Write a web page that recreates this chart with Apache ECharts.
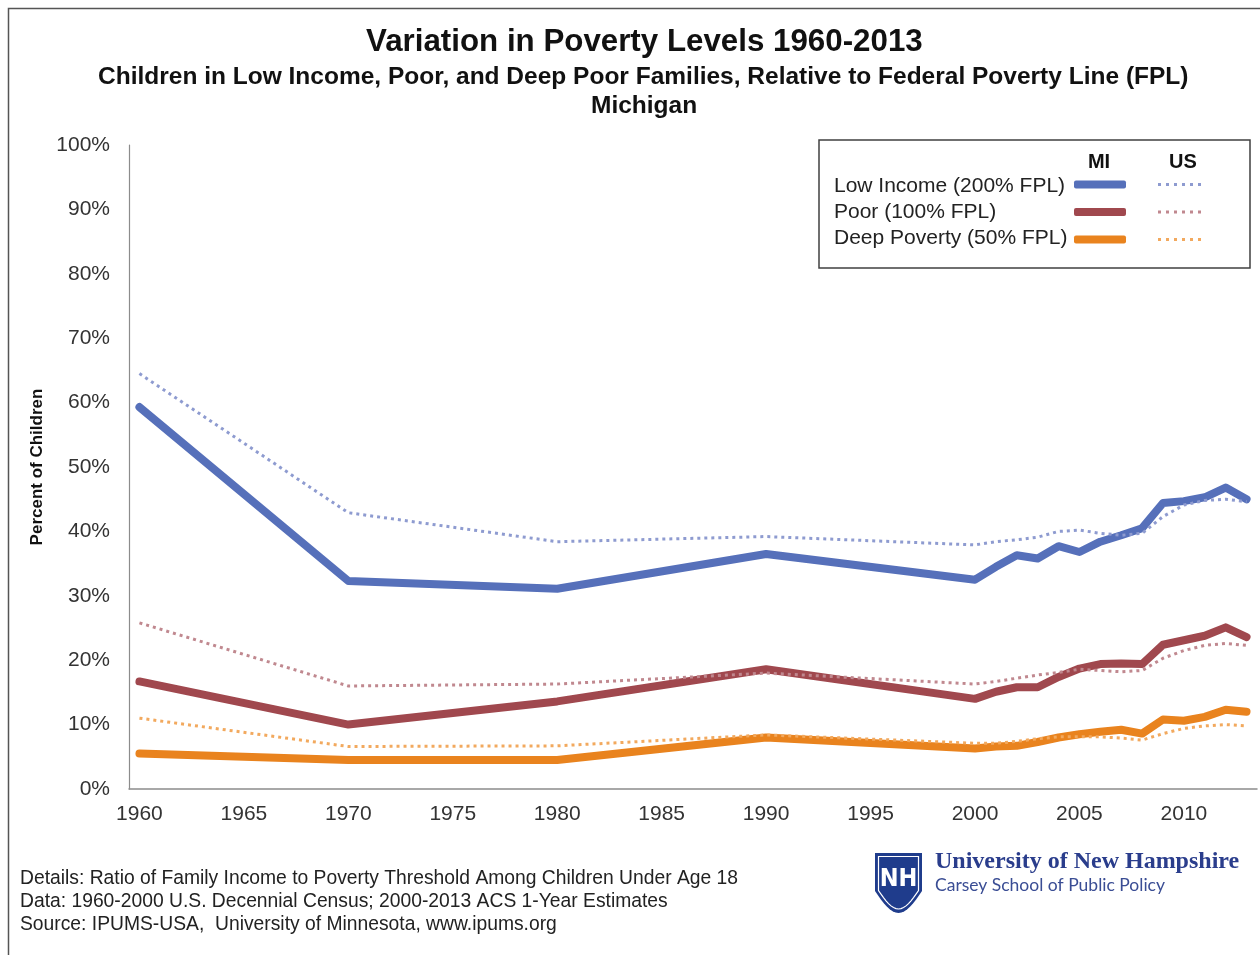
<!DOCTYPE html>
<html>
<head>
<meta charset="utf-8">
<title>Variation in Poverty Levels 1960-2013</title>
<script src="https://cdn.jsdelivr.net/npm/echarts@6/dist/echarts.min.js"></script>
<style>
  html, body { margin: 0; padding: 0; background: #fff; }
  #main { width: 1260px; height: 955px; }
</style>
</head>
<body>
<div id="main"></div>
<script>
// years on the x axis (decennial census, then ACS yearly)
var years = [1960, 1970, 1980, 1990, 2000, 2001, 2002, 2003, 2004, 2005, 2006, 2007, 2008, 2009, 2010, 2011, 2012, 2013];
var yearTicks = [1960, 1965, 1970, 1975, 1980, 1985, 1990, 1995, 2000, 2005, 2010];

// percent of children, Michigan (solid) and US (dotted)
var miLowIncome = [59.3, 32.3, 31.1, 36.5, 32.5, 34.5, 36.3, 35.8, 37.7, 36.8, 38.4, 39.4, 40.5, 44.4, 44.7, 45.3, 46.8, 45.0];
var usLowIncome = [64.5, 42.9, 38.4, 39.2, 37.9, 38.4, 38.7, 39.1, 40.0, 40.2, 39.7, 39.4, 39.7, 42.3, 44.1, 44.8, 45.0, 44.6];
var miPoor = [16.7, 10.0, 13.6, 18.6, 14.0, 15.1, 15.8, 15.8, 17.4, 18.7, 19.4, 19.5, 19.4, 22.4, 23.1, 23.8, 25.1, 23.6];
var usPoor = [25.8, 16.0, 16.3, 18.0, 16.3, 16.7, 17.2, 17.7, 18.1, 18.6, 18.4, 18.2, 18.4, 20.3, 21.5, 22.3, 22.6, 22.3];
var miDeep = [5.5, 4.5, 4.5, 8.0, 6.3, 6.6, 6.7, 7.3, 8.0, 8.5, 8.9, 9.2, 8.6, 10.8, 10.6, 11.2, 12.3, 12.0];
var usDeep = [11.0, 6.6, 6.7, 8.4, 7.1, 7.1, 7.4, 7.8, 8.1, 8.1, 8.1, 7.9, 7.6, 8.6, 9.4, 9.8, 10.0, 9.8];

var legendLabels = ['Low Income (200% FPL)', 'Poor (100% FPL)', 'Deep Poverty (50% FPL)'];
var footNotes = [
  'Details: Ratio of Family Income to Poverty Threshold Among Children Under Age 18',
  'Data: 1960-2000 U.S. Decennial Census; 2000-2013 ACS 1-Year Estimates',
  'Source: IPUMS-USA,  University of Minnesota, www.ipums.org'
];

var FONT = '"Liberation Sans", Arial, sans-serif';

function pairs(vals) {
  return years.map(function (y, i) { return [y, vals[i]]; });
}

function miSeries(name, vals, color) {
  return {
    name: name, type: 'line', data: pairs(vals),
    symbol: 'none', color: color,
    lineStyle: { color: color, width: 8, cap: 'round', join: 'round' },
    emphasis: { disabled: true }, z: 2
  };
}
function usSeries(name, vals, color) {
  return {
    name: name, type: 'line', data: pairs(vals),
    symbol: 'none', color: color,
    lineStyle: { color: color, width: 3, type: [3, 4], cap: 'butt' },
    emphasis: { disabled: true }, z: 3
  };
}

var dots = 'path://M0,0h3v3h-3zM8,0h3v3h-3zM16,0h3v3h-3zM24,0h3v3h-3zM32,0h3v3h-3zM40,0h3v3h-3z';

// shield outline for the logo
function shield(x0, y0, w, h, side) {
  var pts = [[x0, y0], [x0 + w, y0], [x0 + w, y0 + side]];
  var yb = y0 + h;
  for (var k = 1; k <= 8; k++) {
    var t = k / 8;
    pts.push([x0 + w - t * w / 2, y0 + side + (yb - y0 - side) * Math.sin(t * Math.PI / 2)]);
  }
  for (var j = 7; j >= 0; j--) {
    var s = j / 8;
    pts.push([x0 + s * w / 2, y0 + side + (yb - y0 - side) * Math.sin(s * Math.PI / 2)]);
  }
  return pts;
}

var chart = echarts.init(document.getElementById('main'));

var graphics = [
  // outer frame
  { type: 'rect', shape: { x: 8.5, y: 8.5, width: 1300, height: 1000 }, style: { fill: 'none', stroke: '#555', lineWidth: 1.5 }, silent: true },
  // legend box
  { type: 'rect', shape: { x: 819, y: 140, width: 431, height: 128 }, style: { fill: '#fff', stroke: '#404040', lineWidth: 1.5 }, z: 5, silent: true },
  { type: 'text', x: 1099, y: 162, z: 6, style: { text: 'MI', font: 'bold 20px ' + FONT, fill: '#111', align: 'center', verticalAlign: 'middle' } },
  { type: 'text', x: 1183, y: 162, z: 6, style: { text: 'US', font: 'bold 20px ' + FONT, fill: '#111', align: 'center', verticalAlign: 'middle' } }
];
legendLabels.forEach(function (t, i) {
  graphics.push({ type: 'text', x: 834, y: 186.5 + i * 26, z: 6,
    style: { text: t, font: '21px ' + FONT, fill: '#222', verticalAlign: 'middle' } });
});
footNotes.forEach(function (t, i) {
  graphics.push({ type: 'text', x: 20, y: 879 + i * 23,
    style: { text: t, font: '19.3px ' + FONT, fill: '#222', verticalAlign: 'middle' } });
});
// UNH logo
graphics.push(
  { type: 'polygon', shape: { points: shield(875, 853, 47, 60, 38) }, style: { fill: '#1f3c8c' } },
  { type: 'polygon', shape: { points: shield(878.5, 856.5, 40, 52.5, 34) }, style: { fill: 'none', stroke: '#fff', lineWidth: 1.2 } },
  { type: 'text', x: 898.5, y: 879, style: { text: 'NH', font: 'bold 25px "DejaVu Sans Condensed", ' + FONT, fill: '#fff', align: 'center', verticalAlign: 'middle' } },
  { type: 'text', x: 935, y: 862, style: { text: 'University of New Hampshire', font: 'bold 24px "Liberation Serif", "DejaVu Serif", serif', fill: '#2a3d8c', verticalAlign: 'middle' } },
  { type: 'text', x: 935, y: 885, style: { text: 'Carsey School of Public Policy', font: '17.5px Lato, "Open Sans", sans-serif', fill: '#3a4d94', verticalAlign: 'middle' } }
);

var option = {
  animation: false,
  backgroundColor: '#fff',
  textStyle: { fontFamily: FONT },
  title: [
    { text: 'Variation in Poverty Levels 1960-2013', left: 366, top: 27, padding: 0,
      textStyle: { fontFamily: FONT, fontSize: 31.3, fontWeight: 'bold', color: '#111' } },
    { text: 'Children in Low Income, Poor, and Deep Poor Families, Relative to Federal Poverty Line (FPL)', left: 98, top: 65, padding: 0,
      textStyle: { fontFamily: FONT, fontSize: 24.5, fontWeight: 'bold', color: '#111' } },
    { text: 'Michigan', left: 591, top: 94, padding: 0,
      textStyle: { fontFamily: FONT, fontSize: 24.5, fontWeight: 'bold', color: '#111' } }
  ],
  legend: [
    { left: 1074, top: 174.5, orient: 'vertical', selectedMode: false, z: 7, padding: 0,
      itemWidth: 52, itemHeight: 8, itemGap: 7.5, icon: 'roundRect',
      formatter: function () { return ' '; },
      textStyle: { fontSize: 20, lineHeight: 20 },
      data: ['MI Low Income', 'MI Poor', 'MI Deep Poverty'] },
    { left: 1158, top: 174.5, orient: 'vertical', selectedMode: false, z: 7, padding: 0,
      itemWidth: 43, itemHeight: 3, itemGap: 7.5, icon: dots,
      formatter: function () { return ' '; },
      textStyle: { fontSize: 20, lineHeight: 20 },
      data: ['US Low Income', 'US Poor', 'US Deep Poverty'] }
  ],
  grid: { left: 129, right: 3, top: 145, bottom: 166 },
  xAxis: {
    type: 'value', min: 1959.5, max: 2013.5,
    axisLine: { show: true, lineStyle: { color: '#8c8c8c', width: 1.5 } },
    axisTick: { show: false },
    splitLine: { show: false },
    axisLabel: {
      customValues: yearTicks, fontSize: 21, color: '#333', margin: 15,
      formatter: function (v) { return String(v); }
    }
  },
  yAxis: {
    type: 'value', min: 0, max: 100, interval: 10,
    name: 'Percent of Children', nameLocation: 'middle', nameGap: 81, nameRotate: 90,
    nameTextStyle: { fontSize: 17, fontWeight: 'bold', color: '#111' },
    axisLine: { show: true, lineStyle: { color: '#8c8c8c', width: 1.2 } },
    axisTick: { show: false },
    splitLine: { show: false },
    axisLabel: { formatter: '{value}%', fontSize: 21, color: '#333', margin: 19 }
  },
  series: [
    miSeries('MI Low Income', miLowIncome, '#5670ba'),
    miSeries('MI Poor', miPoor, '#a0484e'),
    miSeries('MI Deep Poverty', miDeep, '#e9831e'),
    usSeries('US Low Income', usLowIncome, '#8e9bd0'),
    usSeries('US Poor', usPoor, '#c0888f'),
    usSeries('US Deep Poverty', usDeep, '#f2a95e')
  ],
  graphic: graphics
};

chart.setOption(option);
</script>
</body>
</html>
